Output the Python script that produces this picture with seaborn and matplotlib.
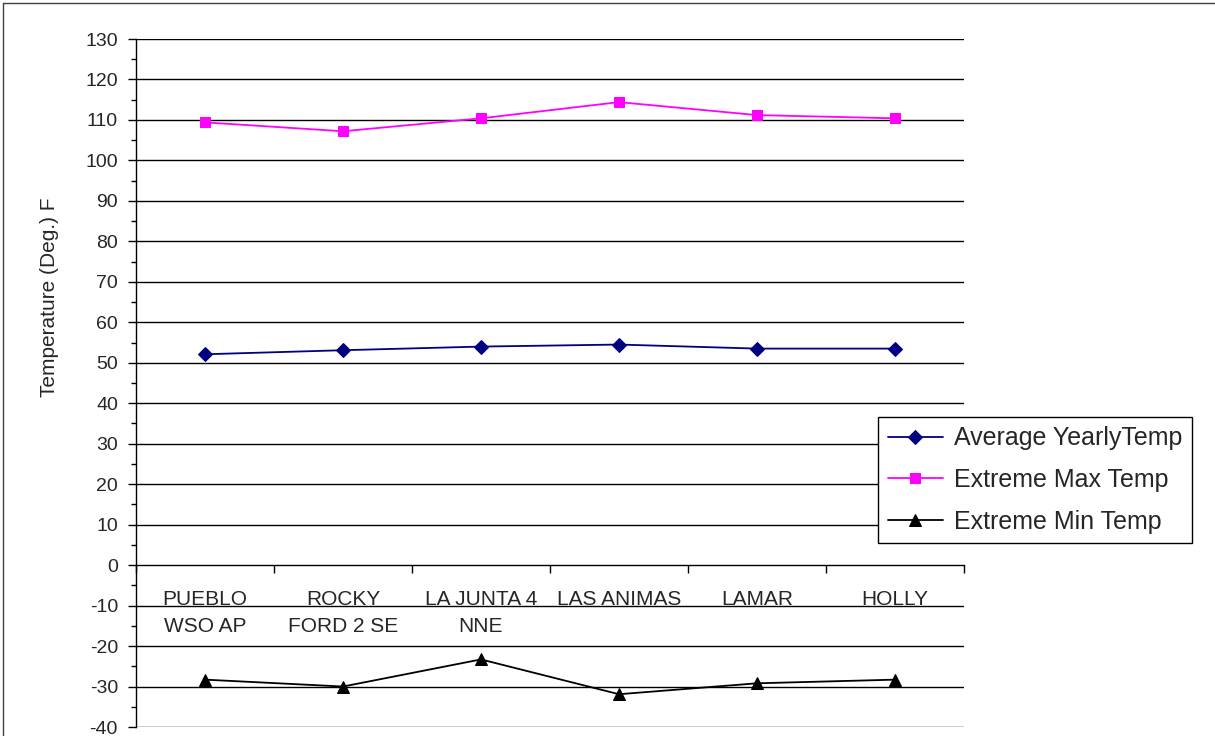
import matplotlib
matplotlib.use("Agg")
import matplotlib.pyplot as plt
from matplotlib.lines import Line2D
import seaborn as sns
import pandas as pd
import numpy as np

stations = ["PUEBLO\nWSO AP", "ROCKY\nFORD 2 SE", "LA JUNTA 4\nNNE",
            "LAS ANIMAS", "LAMAR", "HOLLY"]
avg_yearly = [52.1, 53.1, 54.0, 54.5, 53.5, 53.5]
extreme_max = [109.4, 107.2, 110.4, 114.4, 111.2, 110.4]
extreme_min = [-28.3, -30.0, -23.3, -31.9, -29.2, -28.3]

series_names = ["Average YearlyTemp", "Extreme Max Temp", "Extreme Min Temp"]
y_ticks = list(range(-40, 131, 10))

sns.set_theme(style="white")
plt.rcParams["font.family"] = ["Liberation Sans", "DejaVu Sans"]

df = pd.DataFrame({
    "pos": list(range(len(stations))) * 3,
    "temp": avg_yearly + extreme_max + extreme_min,
    "series": sum([[n] * len(stations) for n in series_names], []),
})

W, H = 1215, 736
fig = plt.figure(figsize=(W / 100, H / 100), dpi=100)
ax = fig.add_axes([136 / W, 1 - 727 / H, (964 - 136) / W, (727 - 39) / H])

palette = {series_names[0]: "#000080", series_names[1]: "#FF00FF", series_names[2]: "#000000"}
markers = {series_names[0]: "D", series_names[1]: "s", series_names[2]: "^"}
sizes = {series_names[0]: 7, series_names[1]: 7.5, series_names[2]: 8.5}

for name in series_names:
    sub = df[df["series"] == name]
    sns.lineplot(data=sub, x="pos", y="temp", ax=ax, color=palette[name],
                 marker=markers[name], markersize=sizes[name],
                 markeredgecolor=palette[name], linewidth=1.3, label=name,
                 zorder=5)

ax.set_xlim(-0.5, len(stations) - 0.5)
ax.set_ylim(-40, 130)

# horizontal gridlines at each major value
for v in y_ticks:
    if v != 0:
        ax.axhline(v, color="black", linewidth=1.0, zorder=1)

for side in ["top", "right"]:
    ax.spines[side].set_visible(False)
ax.spines["left"].set_color("black")
ax.spines["left"].set_linewidth(1.0)
ax.spines["bottom"].set_position(("data", 0))
ax.spines["bottom"].set_color("black")
ax.spines["bottom"].set_linewidth(1.0)

ax.set_yticks(y_ticks)
ax.set_yticklabels([str(v) for v in y_ticks], fontsize=14)
ax.set_yticks(np.arange(-35, 130, 10), minor=True)
ax.tick_params(axis="y", which="major", direction="out", length=6, width=1,
               color="black", pad=7, left=True)
ax.tick_params(axis="y", which="minor", direction="out", length=3.5, width=1,
               color="black", left=True)

ax.set_xticks(range(len(stations)))
ax.set_xticklabels(stations, fontsize=15, linespacing=1.55, va="top")
ax.set_xticks(np.arange(-0.5, len(stations), 1.0), minor=True)
ax.tick_params(axis="x", which="major", length=0, pad=18, bottom=True)
ax.tick_params(axis="x", which="minor", direction="out", length=6, width=1,
               color="black", bottom=True)

ax.set_xlabel("")
ax.set_ylabel("")
fig.text(50 / W, 1 - 297 / H, "Temperature (Deg.) F", rotation=90,
         ha="center", va="center", fontsize=15)

leg = ax.legend(loc="upper left", bbox_to_anchor=(878 / W, 1 - 417 / H),
                bbox_transform=fig.transFigure, fontsize=18, frameon=True,
                fancybox=False, edgecolor="black", framealpha=1,
                handlelength=2.2, handletextpad=0.45, borderpad=0.38,
                labelspacing=0.7, borderaxespad=0)
leg.get_frame().set_linewidth(1.0)

# chart-area frame: top and left edges
fig.add_artist(Line2D([3 / W, 1.0], [1 - 2.5 / H, 1 - 2.5 / H],
                      transform=fig.transFigure, color="#404040", linewidth=1.0))
fig.add_artist(Line2D([3 / W, 3 / W], [0.0, 1 - 2.5 / H],
                      transform=fig.transFigure, color="#404040", linewidth=1.0))

fig.savefig("out.png", dpi=100)
